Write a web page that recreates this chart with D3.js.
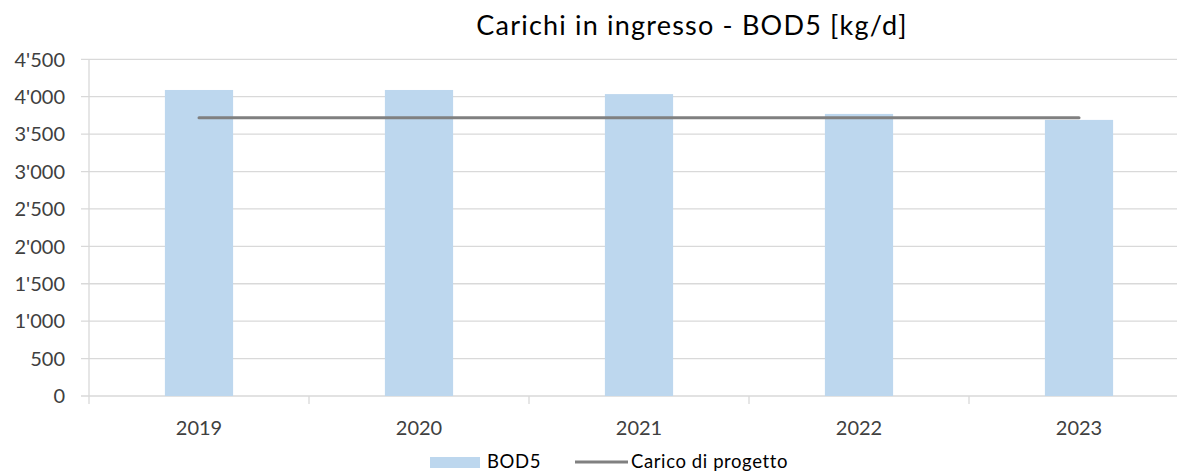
<!DOCTYPE html>
<html>
<head>
<meta charset="utf-8">
<script src="https://cdn.jsdelivr.net/npm/d3@7"></script>
<style>
  body { margin: 0; background: #fff; }
  svg { font-family: Lato, "Open Sans", sans-serif; }
</style>
</head>
<body>
<div id="chart"></div>
<script>
let width = 1177,
    height = 473;

const years = ["2019", "2020", "2021", "2022", "2023"];
const bod5 = [4090, 4090, 4035, 3770, 3690];
const caricoProgetto = [3720, 3720, 3720, 3720, 3720];
const yTicks = [0, 500, 1000, 1500, 2000, 2500, 3000, 3500, 4000, 4500];

const margin = { left: 89, top: 59.3, bottom: 396 };

const svg = d3.select("#chart").append("svg")
    .attr("width", width)
    .attr("height", height);

let band = 220;

let x = d3.scaleBand()
    .domain(years)
    .range([margin.left, margin.left + years.length * band])
    .paddingInner(0.69)
    .paddingOuter(0.345);

let y = d3.scaleLinear()
    .domain([0, 4500])
    .range([margin.bottom, margin.top]);

const fmt = d => d3.format(",")(d).replace(/,/g, "'");

// gridlines
svg.append("g")
  .selectAll("line")
  .data(yTicks)
  .enter().append("line")
    .attr("x1", margin.left - 8)
    .attr("x2", width)
    .attr("y1", d => y(d))
    .attr("y2", d => y(d))
    .attr("stroke", "#d9d9d9")
    .attr("stroke-width", 1.3);

// y axis line
svg.append("line")
    .attr("x1", margin.left).attr("x2", margin.left)
    .attr("y1", y(4500)).attr("y2", margin.bottom + 8)
    .attr("stroke", "#d9d9d9")
    .attr("stroke-width", 1.3);

// x ticks between categories
svg.append("g")
  .selectAll("line")
  .data(d3.range(1, 5))
  .enter().append("line")
    .attr("x1", d => margin.left + d * band)
    .attr("x2", d => margin.left + d * band)
    .attr("y1", margin.bottom)
    .attr("y2", margin.bottom + 8)
    .attr("stroke", "#d9d9d9")
    .attr("stroke-width", 1.3);

// y tick labels
svg.append("g")
  .selectAll("text")
  .data(yTicks)
  .enter().append("text")
    .attr("x", 65)
    .attr("y", d => y(d))
    .attr("dy", "0.36em")
    .attr("text-anchor", "end")
    .attr("font-size", 20)
    .attr("fill", "#404040")
    .text(fmt);

// bars
svg.append("g")
  .selectAll("rect")
  .data(years)
  .enter().append("rect")
    .attr("x", d => x(d))
    .attr("width", x.bandwidth())
    .attr("y", (d, i) => y(bod5[i]))
    .attr("height", (d, i) => y(0) - y(bod5[i]))
    .attr("fill", "#bdd7ee");

// design load line
let line = d3.line()
    .x((d, i) => x(years[i]) + x.bandwidth() / 2)
    .y(d => y(d));

svg.append("path")
    .datum(caricoProgetto)
    .attr("d", line)
    .attr("fill", "none")
    .attr("stroke", "#808080")
    .attr("stroke-width", 3)
    .attr("stroke-linecap", "round");

// x labels
svg.append("g")
  .selectAll("text")
  .data(years)
  .enter().append("text")
    .attr("x", d => x(d) + x.bandwidth() / 2)
    .attr("y", 435)
    .attr("text-anchor", "middle")
    .attr("font-size", 20)
    .attr("fill", "#404040")
    .text(d => d);

// title
svg.append("text")
    .attr("x", 692)
    .attr("y", 35)
    .attr("text-anchor", "middle")
    .attr("font-size", 27)
    .attr("letter-spacing", 1.2)
    .attr("fill", "#000")
    .text("Carichi in ingresso - BOD5 [kg/d]");

// legend
const legend = svg.append("g")
    .attr("font-size", 18.5)
    .attr("letter-spacing", 0.6)
    .attr("fill", "#000");
legend.append("rect")
    .attr("x", 430).attr("y", 457)
    .attr("width", 50).attr("height", 11)
    .attr("fill", "#bdd7ee");
legend.append("text")
    .attr("x", 487).attr("y", 468)
    .text("BOD5");
legend.append("line")
    .attr("x1", 575).attr("x2", 628)
    .attr("y1", 462).attr("y2", 462)
    .attr("stroke", "#808080")
    .attr("stroke-width", 3);
legend.append("text")
    .attr("x", 631).attr("y", 468)
    .text("Carico di progetto");
</script>
</body>
</html>
